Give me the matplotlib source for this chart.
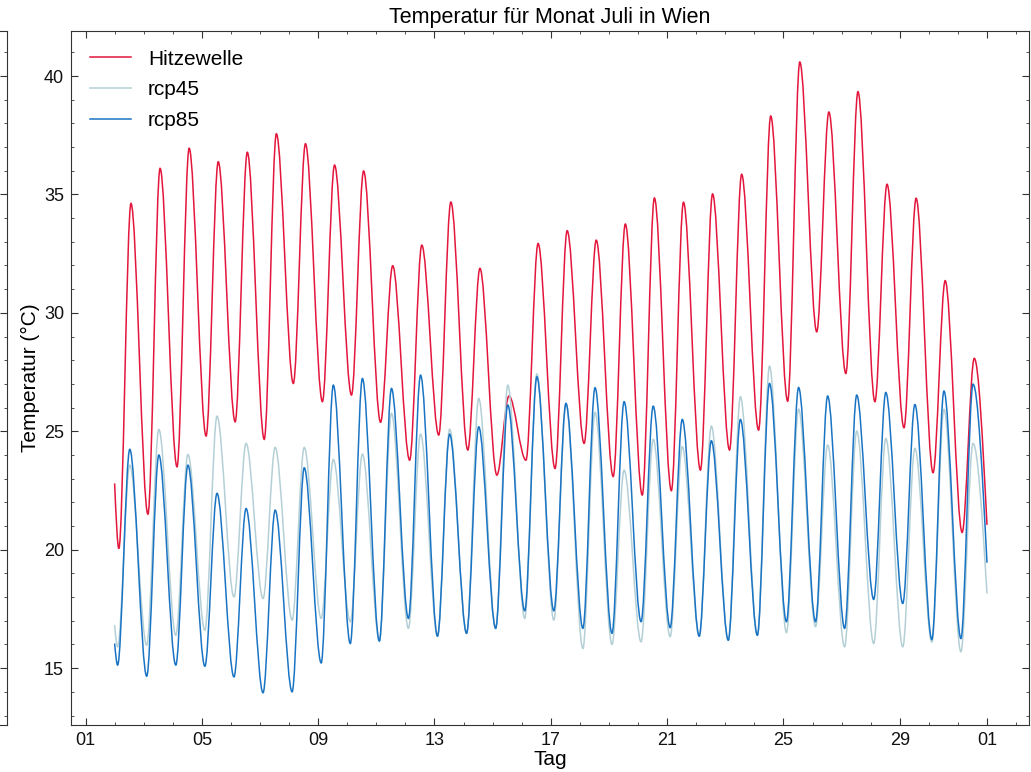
import datetime as dt

import matplotlib
matplotlib.use("Agg")
import matplotlib.pyplot as plt
import matplotlib.dates as mdates
from matplotlib.lines import Line2D
from matplotlib.patches import PathPatch
from matplotlib.path import Path
from matplotlib.ticker import MultipleLocator

plt.rcParams["font.family"] = ["Liberation Sans", "DejaVu Sans"]

# Daily extremes (deg C), 2 July .. 31 July, plus first / last hourly value
DAYS = list(range(2, 32))

hitze_start = 22.8
hitze_min = [20.05, 21.50, 23.50, 24.80, 25.40, 24.66, 27.02, 26.25, 26.53, 25.38,
             23.78, 24.84, 24.21, 23.15, 23.78, 23.43, 24.49, 23.09, 22.31, 22.49,
             23.36, 24.21, 25.05, 26.27, 29.20, 27.44, 26.25, 25.15, 23.25, 20.73]
hitze_max = [34.62, 36.10, 36.95, 36.38, 36.78, 37.56, 37.14, 36.24, 35.99, 31.99,
             32.86, 34.68, 31.88, 26.49, 32.93, 33.47, 33.07, 33.75, 34.85, 34.67,
             35.02, 35.85, 38.31, 40.59, 38.48, 39.34, 35.43, 34.84, 31.36, 28.08]
hitze_end = 21.05

rcp45_start = 16.82
rcp45_min = [15.90, 15.97, 16.39, 16.60, 18.01, 17.94, 17.03, 17.10, 16.96, 16.20,
             16.68, 16.35, 16.47, 16.68, 17.10, 17.03, 15.83, 16.00, 16.11, 16.33,
             16.35, 16.18, 16.39, 16.50, 16.75, 15.90, 16.04, 15.90, 16.10, 15.69]
rcp45_max = [23.57, 25.08, 24.02, 25.64, 24.49, 24.32, 24.32, 23.81, 24.04, 25.76,
             24.88, 25.09, 26.39, 26.95, 27.42, 26.15, 25.80, 23.36, 24.66, 24.35,
             25.22, 26.46, 27.75, 25.94, 24.42, 25.01, 24.70, 24.28, 25.93, 24.49]
rcp45_end = 18.15

rcp85_start = 16.04
rcp85_min = [15.13, 14.66, 15.13, 15.08, 14.63, 13.96, 14.00, 15.22, 16.04, 16.14,
             17.10, 16.35, 16.47, 16.68, 17.42, 17.42, 16.68, 16.47, 16.96, 16.71,
             16.35, 16.18, 16.39, 16.96, 16.96, 16.68, 17.90, 17.73, 16.21, 16.25]
rcp85_max = [24.24, 24.00, 23.57, 22.38, 21.74, 21.67, 23.46, 26.95, 27.23, 26.81,
             27.37, 24.88, 25.19, 26.11, 27.30, 26.18, 26.84, 26.25, 26.06, 25.50,
             24.60, 25.50, 27.02, 26.85, 26.49, 26.53, 26.64, 26.13, 26.70, 26.99]
rcp85_end = 19.45

# hour of day of the daily minimum / maximum
hitze_hours = (3.5, 13.5)
rcp_hours = (2.5, 12.5)

labels = ["Hitzewelle", "rcp45", "rcp85"]
colors = ["#e3163c", "#b4d0d6", "#1a74c4"]


def extremes(start, mins, maxs, end, hours):
    """Timestamps and values of the alternating daily minima/maxima."""
    ts = [dt.datetime(2021, 7, DAYS[0])]
    vs = [start]
    for d, lo, hi in zip(DAYS, mins, maxs):
        base = dt.datetime(2021, 7, d)
        ts += [base + dt.timedelta(hours=hours[0]),
               base + dt.timedelta(hours=hours[1])]
        vs += [lo, hi]
    ts.append(dt.datetime(2021, 8, 1))
    vs.append(end)
    return mdates.date2num(ts), vs


def smooth_path(x, y):
    """Bezier path through the extremes, flat at each min/max."""
    verts = [(x[0], y[0])]
    codes = [Path.MOVETO]
    n = len(x)
    for i in range(n - 1):
        h = (x[i + 1] - x[i]) / 3.0
        y1 = y[i] if i > 0 else 0.5 * (y[i] + y[i + 1])
        y2 = y[i + 1] if i + 1 < n - 1 else 0.5 * (y[i] + y[i + 1])
        verts += [(x[i] + h, y1), (x[i + 1] - h, y2), (x[i + 1], y[i + 1])]
        codes += [Path.CURVE4] * 3
    return Path(verts, codes)


series = [
    extremes(hitze_start, hitze_min, hitze_max, hitze_end, hitze_hours),
    extremes(rcp45_start, rcp45_min, rcp45_max, rcp45_end, rcp_hours),
    extremes(rcp85_start, rcp85_min, rcp85_max, rcp85_end, rcp_hours),
]

W, H = 1031, 772
fig = plt.figure(figsize=(W / 100, H / 100), dpi=100)
left, right, top, bottom = 71, 1029, 31, 725
ax = fig.add_axes([left / W, 1 - bottom / H, (right - left) / W, (bottom - top) / H])

spine_col = "#333333"

# neighbouring panel, only its right edge is inside the figure
axl = fig.add_axes([-0.3, 1 - bottom / H, 0.3 + 7 / W, (bottom - top) / H])
axl.set_ylim(12.6, 41.9)
axl.set_xticks([])
axl.yaxis.set_major_locator(MultipleLocator(5))
axl.yaxis.set_minor_locator(MultipleLocator(1))
axl.tick_params(axis="y", which="both", direction="in", left=False, right=True,
                labelleft=False, color=spine_col)
axl.tick_params(axis="y", which="major", length=5)
axl.tick_params(axis="y", which="minor", length=2.5)
for sp in axl.spines.values():
    sp.set_color(spine_col)
    sp.set_linewidth(0.8)

handles = []
for (x, y), lab, col in zip(series, labels, colors):
    ax.add_patch(PathPatch(smooth_path(x, y), fill=False, edgecolor=col, lw=1.1))
    handles.append(Line2D([], [], color=col, lw=1.1, label=lab))

x0 = mdates.date2num(dt.datetime(2021, 7, 1))
ax.set_xlim(x0 - 0.5, x0 + 32.445)
ax.set_ylim(12.6, 41.9)

ax.xaxis.set_major_locator(mdates.DayLocator(bymonthday=[1, 5, 9, 13, 17, 21, 25, 29]))
ax.xaxis.set_major_formatter(mdates.DateFormatter("%d"))
ax.xaxis.set_minor_locator(mdates.DayLocator())
ax.yaxis.set_major_locator(MultipleLocator(5))
ax.yaxis.set_minor_locator(MultipleLocator(1))

ax.tick_params(which="both", direction="in", top=True, right=True,
               color=spine_col, labelsize=13, labelcolor="#111111")
ax.tick_params(which="major", length=5, pad=5)
ax.tick_params(which="minor", length=2.5)
for sp in ax.spines.values():
    sp.set_color(spine_col)
    sp.set_linewidth(0.8)

ax.set_xlabel("Tag", fontsize=15, labelpad=1)
ax.set_ylabel("Temperatur (°C)", fontsize=15, labelpad=3)
ax.set_title("Temperatur für Monat Juli in Wien", fontsize=15.5, pad=6)

ax.legend(handles=handles, loc="upper left", frameon=False, fontsize=15,
          labelspacing=0.56)

fig.savefig("out.png", dpi=100)
